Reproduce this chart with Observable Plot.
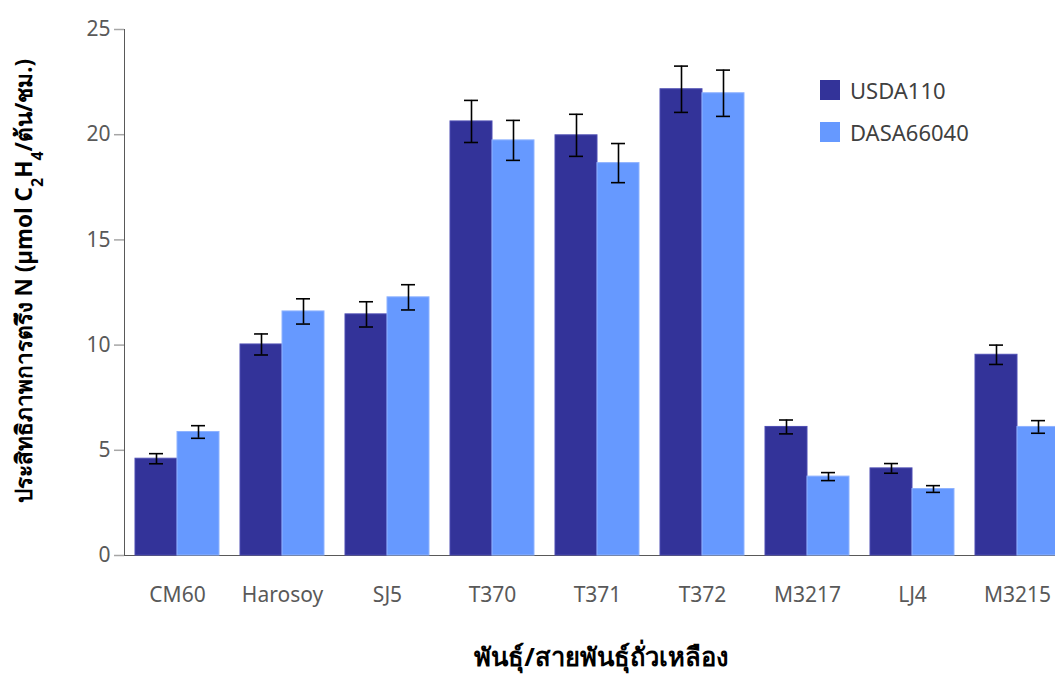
<!DOCTYPE html>
<html>
<head>
<meta charset="utf-8">
<script src="https://cdn.jsdelivr.net/npm/d3@7"></script>
<script src="https://cdn.jsdelivr.net/npm/@observablehq/plot@0.6"></script>
<style>
  html, body { margin: 0; padding: 0; background: #fff; overflow: hidden; width: 1055px; height: 680px; }
  #wrap { position: relative; width: 1055px; height: 680px; overflow: hidden; }
  #chart svg { display: block; max-width: none !important; width: 1090px !important; height: 680px !important; }
  g[aria-label*="axis"] line, g[aria-label*="axis"] path { stroke: #a6a6a6; stroke-width: 1.5; stroke-opacity: 1; }
  #legend { position: absolute; left: 820px; top: 76px; font-family: "Noto Sans", sans-serif; font-size: 22px; color: #404040; }
  #legend .item { display: flex; align-items: center; height: 28px; margin-bottom: 14px; }
  #legend .sw { width: 20px; height: 20px; margin-right: 10px; }
</style>
</head>
<body>
<div id="wrap">
  <div id="chart"></div>
  <div id="legend"></div>
</div>
<script>
const categories = ["CM60", "Harosoy", "SJ5", "T370", "T371", "T372", "M3217", "LJ4", "M3215"];
const seriesNames = ["USDA110", "DASA66040"];
const usdaValues = [4.6, 10.03, 11.46, 20.63, 19.97, 22.16, 6.11, 4.14, 9.54];
const usdaErrors = [0.24, 0.5, 0.6, 1.0, 1.0, 1.1, 0.33, 0.23, 0.46];
const dasaValues = [5.87, 11.6, 12.27, 19.73, 18.65, 21.97, 3.75, 3.16, 6.11];
const dasaErrors = [0.3, 0.6, 0.6, 0.95, 0.93, 1.1, 0.19, 0.16, 0.3];
const yTicks = [0, 5, 10, 15, 20, 25];
const colors = ["#333399", "#6699ff"];
const yLabelMain = "ประสิทธิภาพการตรึง N (µmol C";
const xLabel = "พันธุ์/สายพันธุ์ถั่วเหลือง";

const usda = categories.map((c, i) => ({cat: c, series: seriesNames[0], v: usdaValues[i], e: usdaErrors[i]}));
const dasa = categories.map((c, i) => ({cat: c, series: seriesNames[1], v: dasaValues[i], e: dasaErrors[i]}));

const half = 42;   // half band width (style)
const capHalf = 7; // cap half width (style)

const errMarks = (data, side) => {
  const dx = side === 0 ? -half / 2 : half / 2;
  const inL = side === 0 ? half / 2 - capHalf : half + half / 2 - capHalf;
  const inR = side === 0 ? half + half / 2 - capHalf : half / 2 - capHalf;
  return [
    Plot.ruleX(data, {x: "cat", y1: d => d.v - d.e, y2: d => d.v + d.e, dx, stroke: "#000", strokeWidth: 1.6}),
    Plot.tickY(data, {x: "cat", y: d => d.v + d.e, insetLeft: inL, insetRight: inR, stroke: "#000", strokeWidth: 1.6}),
    Plot.tickY(data, {x: "cat", y: d => d.v - d.e, insetLeft: inL, insetRight: inR, stroke: "#000", strokeWidth: 1.6})
  ];
};

const chart = Plot.plot({
  width: 1090,
  height: 680,
  marginLeft: 124,
  marginRight: 19,
  marginTop: 29,
  marginBottom: 125,
  style: {fontFamily: "'Noto Sans', sans-serif", fontSize: "21px", color: "#595959", background: "#fff", overflow: "visible", maxWidth: "none"},
  x: {domain: categories, paddingInner: 0.2, paddingOuter: 0.1, tickSize: 0, tickPadding: 32, label: null, line: true},
  y: {domain: [0, 25], ticks: yTicks, tickSize: 10, tickPadding: 4, label: null, line: true},
  marks: [
    Plot.barY(usda, {x: "cat", y: "v", fill: colors[0], stroke: "#4d4db3", strokeWidth: 1, insetRight: half}),
    Plot.barY(dasa, {x: "cat", y: "v", fill: colors[1], stroke: "#8fb3ff", strokeWidth: 1, insetLeft: half}),
    ...errMarks(usda, 0),
    ...errMarks(dasa, 1)
  ]
});
document.getElementById("chart").appendChild(chart);

const svg = d3.select(chart);
const yl = svg.append("text")
  .attr("transform", "translate(32,281) rotate(-90)")
  .attr("text-anchor", "middle")
  .attr("font-family", "'Noto Sans', sans-serif")
  .attr("font-weight", "bold")
  .attr("font-size", "22.5px")
  .attr("fill", "#000");
yl.append("tspan").text(yLabelMain);
yl.append("tspan").attr("baseline-shift", "sub").attr("font-size", "16px").text("2");
yl.append("tspan").text("H");
yl.append("tspan").attr("baseline-shift", "sub").attr("font-size", "16px").text("4");
yl.append("tspan").text("/ต้น/ชม.)");

svg.append("text")
  .attr("x", 601).attr("y", 666)
  .attr("text-anchor", "middle")
  .attr("font-family", "'Noto Sans', sans-serif")
  .attr("font-weight", "bold")
  .attr("font-size", "25.5px")
  .attr("fill", "#000")
  .text(xLabel);

const legend = document.getElementById("legend");
seriesNames.forEach((s, i) => {
  const item = document.createElement("div");
  item.className = "item";
  const sw = document.createElement("div");
  sw.className = "sw";
  sw.style.background = colors[i];
  const t = document.createElement("span");
  t.textContent = s;
  item.appendChild(sw);
  item.appendChild(t);
  legend.appendChild(item);
});
</script>
</body>
</html>
